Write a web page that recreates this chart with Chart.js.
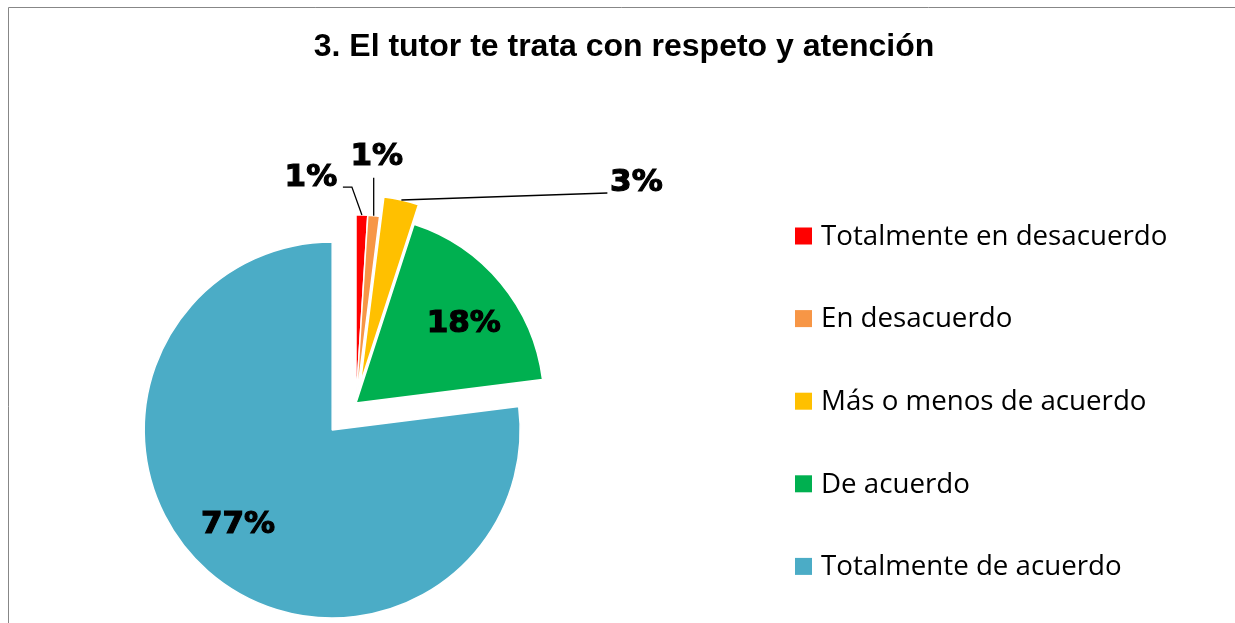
<!DOCTYPE html>
<html>
<head>
<meta charset="utf-8">
<script src="https://cdn.jsdelivr.net/npm/chart.js@4/dist/chart.umd.min.js"></script>
<style>
    html, body { margin: 0; padding: 0; background: #fff; overflow: hidden; }
    #wrap { position: absolute; left: 0; top: 0; width: 1235px; height: 806px; }
</style>
</head>
<body>
<div id="wrap"><canvas id="pieChart"></canvas></div>
<script>
const chartTitle = '3. El tutor te trata con respeto y atención';
const categories = ['Totalmente en desacuerdo', 'En desacuerdo', 'Más o menos de acuerdo', 'De acuerdo', 'Totalmente de acuerdo'];
const percentages = [1, 1, 3, 18, 77];
const sliceColors = ['#FF0000', '#F79646', '#FFC000', '#00B050', '#4BACC6'];
// how far each slice is pulled out of the pie, px
const explode = [0, 0, 20, 0, 36];

// labels for thin slices sit outside with a leader line (relative to slice's outer midpoint)
const callouts = {
    0: { dx: -51, dy: -37, path: [[-10, -28], [-19, -28]] },
    1: { dx: 3, dy: -59, path: [[0, -38]] },
    2: { dx: 235, dy: -17, path: [[206, -7]] }
};

function sliceShift(arc, i) {
    const mid = (arc.startAngle + arc.endAngle) / 2;
    return { mid: mid, x: Math.cos(mid) * explode[i], y: Math.sin(mid) * explode[i] };
}

const explodePlugin = {
    id: 'explode',
    beforeDatasetDraw(chart, args) {
        const ctx = chart.ctx;
        args.meta.data.forEach((arc, i) => {
            const s = sliceShift(arc, i);
            ctx.save();
            ctx.translate(s.x, s.y);
            arc.draw(ctx);
            ctx.restore();
        });
        return false;
    }
};

const decorPlugin = {
    id: 'decor',
    afterDatasetsDraw(chart) {
        const ctx = chart.ctx;
        const meta = chart.getDatasetMeta(0);

        ctx.save();
        // frame
        ctx.strokeStyle = '#878787';
        ctx.lineWidth = 1;
        ctx.beginPath();
        ctx.moveTo(8.5, chart.height);
        ctx.lineTo(8.5, 7.5);
        ctx.lineTo(chart.width, 7.5);
        ctx.stroke();

        // title
        ctx.fillStyle = '#000';
        ctx.font = 'bold 32px "Liberation Sans", Arial, sans-serif';
        ctx.textAlign = 'center';
        ctx.textBaseline = 'middle';
        ctx.fillText(chartTitle, 624, 47);

        // data labels
        ctx.font = 'bold 31px "DejaVu Sans", sans-serif';
        ctx.strokeStyle = '#000';
        meta.data.forEach((arc, i) => {
            const s = sliceShift(arc, i);
            const cx = arc.x + s.x;
            const cy = arc.y + s.y;
            const text = percentages[i] + '%';
            const c = callouts[i];
            let tx, ty;
            if (c) {
                const ax = cx + Math.cos(s.mid) * arc.outerRadius;
                const ay = cy + Math.sin(s.mid) * arc.outerRadius;
                ctx.lineWidth = 1.3;
                ctx.beginPath();
                ctx.moveTo(ax, ay);
                c.path.forEach(pt => ctx.lineTo(ax + pt[0], ay + pt[1]));
                ctx.stroke();
                tx = ax + c.dx;
                ty = ay + c.dy;
            } else {
                const r = arc.outerRadius * 0.71;
                const a = s.mid + 0.06;
                tx = cx + Math.cos(a) * r;
                ty = cy + Math.sin(a) * r;
            }
            ctx.lineWidth = 1.2;
            ctx.fillText(text, tx, ty);
            ctx.strokeText(text, tx, ty);
        });

        // legend
        ctx.textAlign = 'left';
        ctx.font = '27.7px "Open Sans", sans-serif';
        categories.forEach((label, i) => {
            const y = 236 + i * 82.6;
            ctx.fillStyle = sliceColors[i];
            ctx.fillRect(795, y - 8.5, 17, 17);
            ctx.fillStyle = '#000';
            ctx.fillText(label, 821, y + 1);
        });
        ctx.restore();
    }
};

const ctx = document.getElementById('pieChart').getContext('2d');
const pieChart = new Chart(ctx, {
    type: 'pie',
    data: {
        labels: categories,
        datasets: [{
            data: percentages,
            backgroundColor: sliceColors,
            borderColor: '#ffffff',
            borderWidth: 1.5,
            radius: 188,
            clip: false
        }]
    },
    options: {
        responsive: true,
        maintainAspectRatio: false,
        animation: false,
        events: [],
        layout: {
            padding: { left: 0, right: 523, top: 0, bottom: 0 }
        },
        plugins: {
            legend: { display: false },
            title: { display: false },
            tooltip: { enabled: false }
        }
    },
    plugins: [explodePlugin, decorPlugin]
});
</script>
</body>
</html>
